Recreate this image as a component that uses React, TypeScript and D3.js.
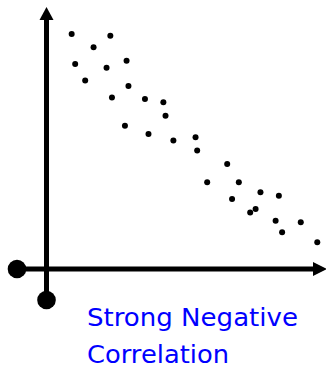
import * as d3 from "d3";
import { useEffect, useRef } from "react";

const width = 326;
const height = 374;

// valores (unidades arbitrarias 0-10)
const xVals = [
  0.93, 2.36, 1.74, 1.06, 2.22, 2.96, 1.43, 3.03, 2.42, 3.64, 4.32, 4.4, 2.9,
  3.77, 4.69, 5.51, 5.57, 6.68, 5.94, 7.11, 7.91, 8.59, 6.86, 7.73, 7.53, 8.47,
  9.4, 8.71, 10.01,
];
const yVals = [
  8.97, 8.9, 8.46, 7.82, 7.68, 7.95, 7.19, 6.98, 6.55, 6.49, 6.36, 5.85, 5.47,
  5.15, 4.9, 5.03, 4.52, 4.01, 3.31, 3.31, 2.93, 2.8, 2.67, 2.29, 2.16, 1.84,
  1.78, 1.4, 1.02,
];
const caption = ["Strong Negative", "Correlation"];

const App = () => {
  const svgRef = useRef<SVGSVGElement>(null);

  useEffect(() => {
    if (!svgRef.current) return;
    const svg = d3.select(svgRef.current);
    svg.selectAll("*").remove();

    const x = d3.scaleLinear().domain([0, 10]).range([46.5, 317]);
    const y = d3.scaleLinear().domain([0, 10]).range([269, 7]);

    const ejes = svg.append("g");

    // eje vertical
    ejes
      .append("line")
      .attr("x1", x(0))
      .attr("x2", x(0))
      .attr("y1", 300)
      .attr("y2", 18)
      .attr("stroke", "#000")
      .attr("stroke-width", 5);
    ejes
      .append("path")
      .attr("d", `M${x(0)},${y(10)} L${x(0) - 7},${y(10) + 13} L${x(0) + 7},${y(10) + 13} Z`)
      .attr("fill", "#000");
    ejes.append("circle").attr("cx", x(0)).attr("cy", 300).attr("r", 9.3).attr("fill", "#000");

    // eje horizontal
    ejes
      .append("line")
      .attr("x1", 17)
      .attr("x2", 318)
      .attr("y1", y(0))
      .attr("y2", y(0))
      .attr("stroke", "#000")
      .attr("stroke-width", 5);
    ejes
      .append("path")
      .attr("d", `M327,${y(0)} L313,${y(0) - 7} L313,${y(0) + 7} Z`)
      .attr("fill", "#000");
    ejes.append("circle").attr("cx", 17).attr("cy", y(0)).attr("r", 9.3).attr("fill", "#000");

    // puntos
    svg
      .append("g")
      .selectAll("circle")
      .data(d3.range(xVals.length))
      .join("circle")
      .attr("cx", (i) => x(xVals[i]))
      .attr("cy", (i) => y(yVals[i]))
      .attr("r", 3)
      .attr("fill", "#000");

    // texto
    svg
      .append("g")
      .selectAll("text")
      .data(caption)
      .join("text")
      .attr("x", 87)
      .attr("y", (_, i) => 326 + i * 37)
      .attr("textLength", (_, i) => (i === 0 ? 211 : 142))
      .attr("lengthAdjust", "spacingAndGlyphs")
      .attr("font-family", "'Comic Sans MS', 'DejaVu Sans', sans-serif")
      .attr("font-size", 25)
      .attr("fill", "#0000ff")
      .text((d) => d);
  }, []);

  return (
    <svg
      ref={svgRef}
      width={width}
      height={height}
      style={{ position: "absolute", left: 0, top: 0, background: "#fff" }}
    />
  );
};

export default App;
